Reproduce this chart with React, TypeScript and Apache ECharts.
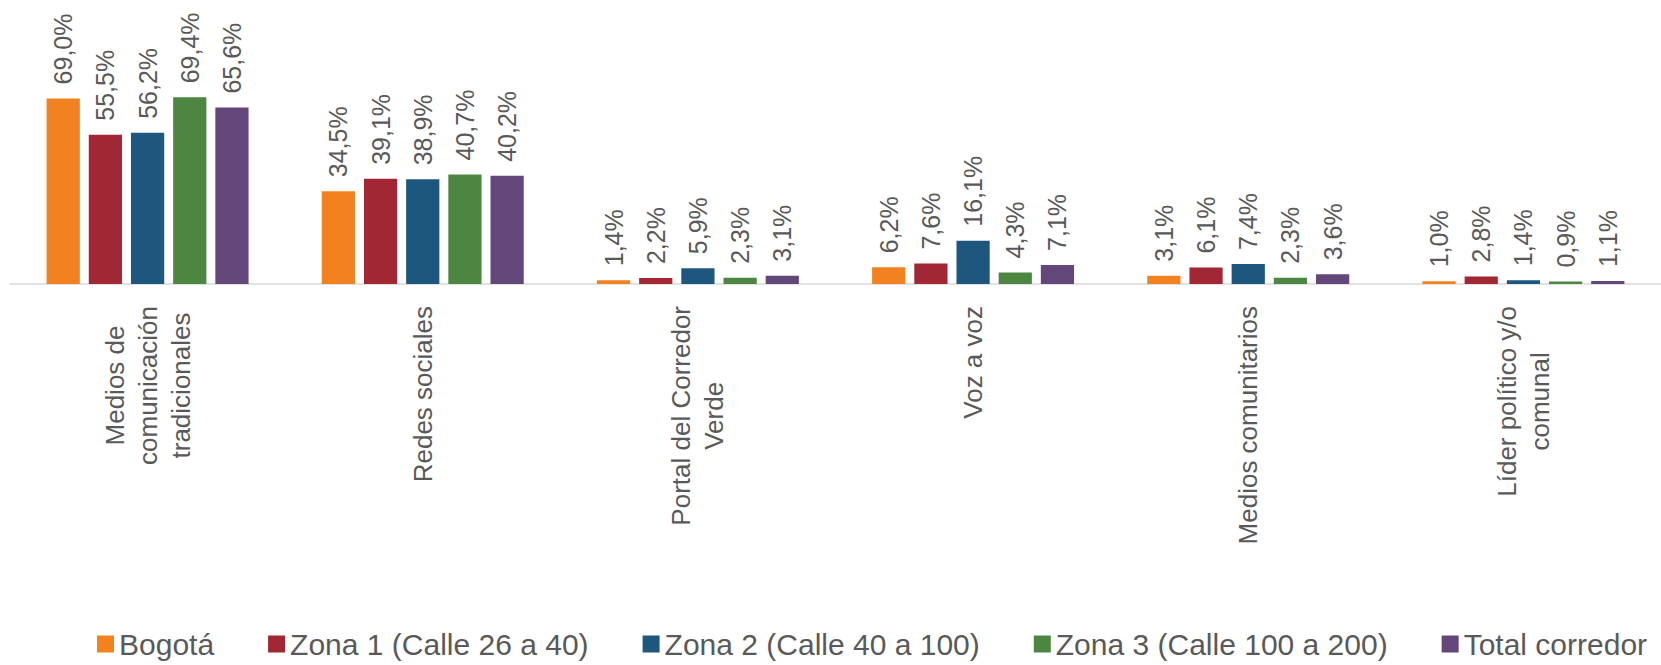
import React, { useEffect, useRef } from "react";
import * as echarts from "echarts";

const categories = [
  "Medios de\ncomunicación\ntradicionales",
  "Redes sociales",
  "Portal del Corredor\nVerde",
  "Voz a voz",
  "Medios comunitarios",
  "Líder político y/o\ncomunal",
];

const seriesNames = [
  "Bogotá",
  "Zona 1 (Calle 26 a 40)",
  "Zona 2 (Calle 40 a 100)",
  "Zona 3 (Calle 100 a 200)",
  "Total corredor",
];

const bogota = [69.0, 34.5, 1.4, 6.2, 3.1, 1.0];
const zona1 = [55.5, 39.1, 2.2, 7.6, 6.1, 2.8];
const zona2 = [56.2, 38.9, 5.9, 16.1, 7.4, 1.4];
const zona3 = [69.4, 40.7, 2.3, 4.3, 2.3, 0.9];
const total = [65.6, 40.2, 3.1, 7.1, 3.6, 1.1];

const seriesValues = [bogota, zona1, zona2, zona3, total];
const colors = ["#F28220", "#A22735", "#1D577D", "#4C8640", "#63467A"];

const FONT = "'Liberation Sans', Arial, sans-serif";
const TEXT = "#595959";

export default function App() {
  const ref = useRef<HTMLDivElement>(null);

  useEffect(() => {
    document.body.style.margin = "0";
    if (!ref.current) return;
    const chart = echarts.init(ref.current, null, { renderer: "svg" });
    chart.setOption({
      animation: false,
      backgroundColor: "#ffffff",
      color: colors,
      grid: { left: 10, top: 15, width: 1669, height: 269, containLabel: false },
      legend: {
        data: seriesNames,
        left: 97,
        top: 629,
        padding: 0,
        itemGap: 54,
        itemWidth: 17,
        itemHeight: 17,
        icon: "rect",
        textStyle: { fontSize: 30, color: TEXT, fontFamily: FONT },
      },
      xAxis: {
        type: "category",
        data: categories,
        axisTick: { show: false },
        axisLine: { lineStyle: { color: "#D9D9D9", width: 1.5 } },
        axisLabel: {
          interval: 0,
          rotate: 90,
          margin: 22,
          fontSize: 26,
          color: TEXT,
          fontFamily: FONT,
          formatter: (v: string) =>
            v
              .split("\n")
              .map((l) => `{c|${l}}`)
              .join("\n"),
          rich: {
            c: {
              align: "center",
              fontSize: 26,
              color: TEXT,
              fontFamily: FONT,
              lineHeight: 33,
            },
          },
        },
      },
      yAxis: {
        type: "value",
        min: 0,
        max: 100,
        show: false,
        splitLine: { show: false },
      },
      series: seriesNames.map((name, i) => ({
        name,
        type: "bar",
        data: seriesValues[i],
        barGap: "27%",
        barCategoryGap: "26.6%",
        itemStyle: { color: colors[i] },
        label: {
          show: true,
          position: "top",
          rotate: 90,
          align: "left",
          verticalAlign: "middle",
          distance: 14,
          fontSize: 25,
          color: TEXT,
          fontFamily: FONT,
          formatter: (p: any) => p.value.toFixed(1).replace(".", ",") + "%",
        },
      })),
    });
    return () => chart.dispose();
  }, []);

  return <div ref={ref} style={{ width: 1661, height: 665 }} />;
}
